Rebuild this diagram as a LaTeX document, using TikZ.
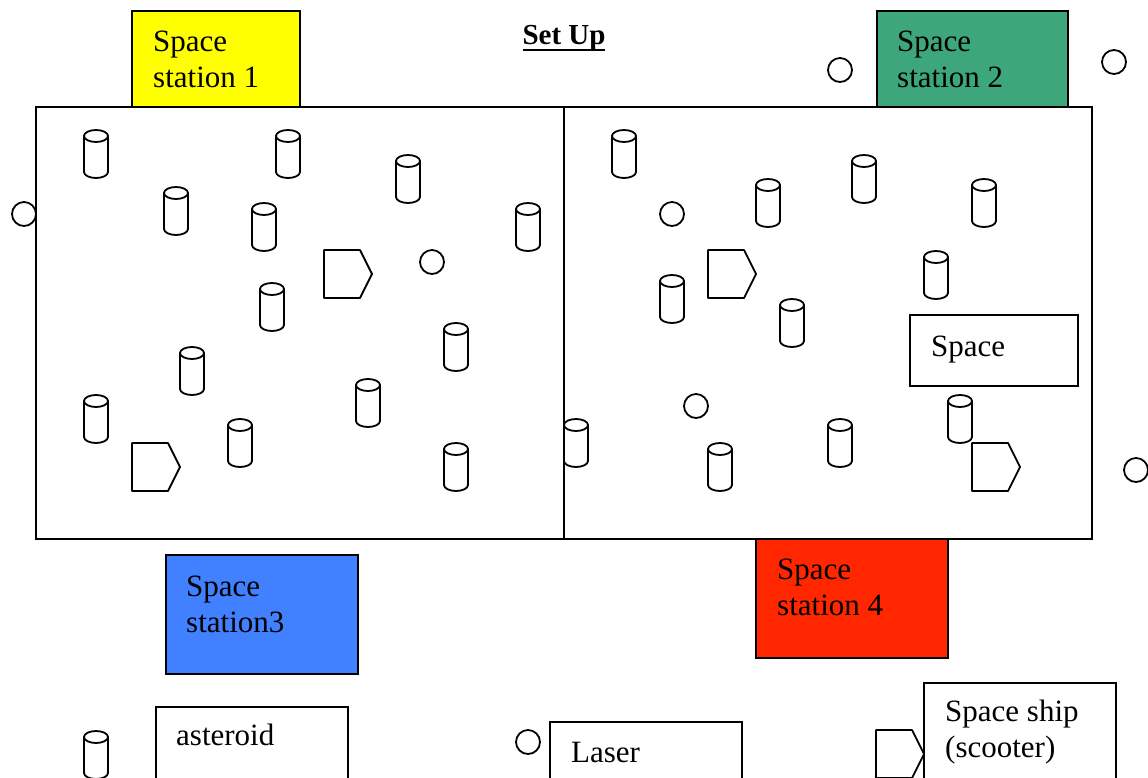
\documentclass[tikz,border=0pt]{standalone}
\usepackage{fontspec}
\setmainfont{Liberation Serif}
\definecolor{styellow}{HTML}{FFFF00}
\definecolor{stgreen}{HTML}{3DA67A}
\definecolor{stblue}{HTML}{4180FF}
\definecolor{stred}{HTML}{FF2600}
\tikzset{
  shp/.style={draw=black, line width=1.8pt, line join=round},
  box/.style={draw=black, line width=1.8pt},
  lbl/.style={anchor=base west, inner sep=0pt, font=\fontsize{31}{36}\selectfont, align=left},
  pics/cyl/.style={code={
    \fill[white] (-12,6) -- (-12,42) arc[start angle=180, end angle=0, x radius=12, y radius=6] -- (12,6) -- cycle;
    \draw[shp] (-12,6) -- (-12,42) arc[start angle=180, end angle=0, x radius=12, y radius=6] -- (12,6);
    \draw[shp] (0,6) ellipse[x radius=12, y radius=6];
  }},
  pics/ship/.style={code={
    \draw[shp, fill=white] (0,0) -- (36,0) -- (48,24) -- (36,48) -- (0,48) -- cycle;
  }},
  ball/.style={shp, circle, minimum size=24pt, inner sep=0pt, fill=white}
}
\begin{document}
\begin{tikzpicture}[x=1pt, y=-1pt]
\useasboundingbox (0,0) rectangle (1148,778);
\fill[white] (0,0) rectangle (1148,778);

% field
\draw[box] (36,107) rectangle (564,539);
\draw[box] (564,107) rectangle (1092,539);

% title
\node[anchor=base, inner sep=0pt, font=\fontsize{29}{32}\selectfont\bfseries] (title) at (564,45) {Set Up};
\draw[line width=2.6pt] (523,50) -- (605,50);

% space stations
\draw[box, fill=styellow] (132,11) rectangle (300,107);
\node[lbl] (s1) at (153,88) {Space\\station 1};
\draw[box, fill=stgreen] (877,11) rectangle (1068,107);
\node[lbl] (s2) at (897,88) {Space\\station 2};
\draw[box, fill=stblue] (166,555) rectangle (358,674);
\node[lbl] (s3) at (186,632) {Space\\station3};
\draw[box, fill=stred] (756,539) rectangle (948,658);
\node[lbl] (s4) at (777,615) {Space\\station 4};

% Space box
\draw[box, fill=white] (910,315) rectangle (1078,386);
\node[lbl] (sp) at (931,356) {Space};

% cylinders (asteroids)
\foreach \x/\y in {96/130, 288/130, 408/155, 176/187, 264/203, 528/203, 272/283, 456/323, 192/347, 368/379, 96/395, 240/419, 456/443, 576/419,
  624/130, 864/155, 768/179, 984/179, 936/251, 672/275, 792/299, 960/395, 840/419, 720/443, 96/731}
  \pic at (\x,\y) {cyl};

% circles (lasers)
\foreach \x/\y [count=\i] in {24/214, 432/262, 840/70, 1114/62, 672/214, 696/406, 1136/470, 528/742}
  \node[ball] (b\i) at (\x,\y) {};

% pentagons (ships)
\foreach \x/\y in {324/250, 708/250, 132/443, 972/443, 876/730}
  \pic at (\x,\y) {ship};

% legend
\draw[box, fill=white] (156,707) rectangle (348,790);
\node[lbl] (la) at (176,745) {asteroid};
\draw[box, fill=white] (550,722) rectangle (742,790);
\node[lbl] (ll) at (571,762) {Laser};
\draw[box, fill=white] (924,683) rectangle (1116,790);
\node[lbl] (ls) at (945,757) {Space ship\\(scooter)};
\end{tikzpicture}
\end{document}
